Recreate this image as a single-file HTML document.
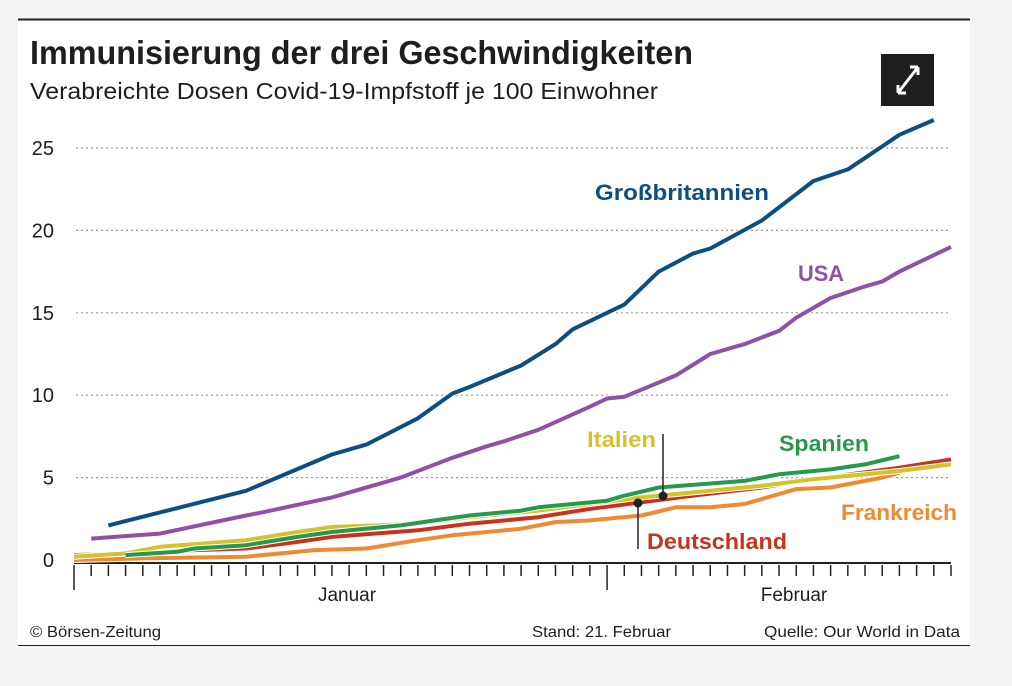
<!DOCTYPE html>
<html><head><meta charset="utf-8"><style>
html,body{margin:0;padding:0;background:#f4f4f4;}
svg{display:block;font-family:"Liberation Sans",sans-serif;}
</style></head><body>
<svg id="chart" width="1012" height="686" viewBox="0 0 1012 686">
<rect x="18" y="19" width="952" height="627" fill="#fff"/>
<line x1="18" y1="19.5" x2="970" y2="19.5" stroke="#222" stroke-width="2"/>
<line x1="18" y1="645.5" x2="970" y2="645.5" stroke="#222" stroke-width="1"/>
<text x="30" y="64" font-size="33" font-weight="bold" fill="#1e1e1e" textLength="663" lengthAdjust="spacingAndGlyphs">Immunisierung der drei Geschwindigkeiten</text>
<text x="30" y="99" font-size="23" fill="#1e1e1e" textLength="628" lengthAdjust="spacingAndGlyphs">Verabreichte Dosen Covid-19-Impfstoff je 100 Einwohner</text>
<g>
<rect x="881" y="54" width="53" height="52" fill="#1e1e1e"/>
<path d="M898 93 L918 67 M898 93 l0 -8 M898 93 l8 0 M918 67 l-8 0 M918 67 l0 8" stroke="#fff" stroke-width="3" fill="none"/>
</g>
<g id="grid"></g><g id="axis"></g><g id="series"></g>
<text x="595" y="200" font-size="22" font-weight="bold" fill="#0b4f82" textLength="174" lengthAdjust="spacingAndGlyphs">Großbritannien</text>
<text x="798" y="281" font-size="22" font-weight="bold" fill="#9050a8" textLength="46" lengthAdjust="spacingAndGlyphs">USA</text>
<text x="587" y="447" font-size="22" font-weight="bold" fill="#d4c22a" textLength="69" lengthAdjust="spacingAndGlyphs">Italien</text>
<text x="779" y="451" font-size="22" font-weight="bold" fill="#27994c" textLength="90" lengthAdjust="spacingAndGlyphs">Spanien</text>
<text x="841" y="520" font-size="22" font-weight="bold" fill="#f08a30" textLength="116" lengthAdjust="spacingAndGlyphs">Frankreich</text>
<text x="647" y="549" font-size="22" font-weight="bold" fill="#c8321e" textLength="140" lengthAdjust="spacingAndGlyphs">Deutschland</text>
<g><line x1="663" y1="434" x2="663" y2="496" stroke="#222" stroke-width="1.5"/><circle cx="663" cy="496" r="4.5" fill="#222"/></g>
<g><line x1="638" y1="503" x2="638" y2="549" stroke="#222" stroke-width="1.5"/><circle cx="638" cy="503" r="4.5" fill="#222"/></g>
<text x="30" y="637" font-size="16" fill="#1e1e1e" textLength="131" lengthAdjust="spacingAndGlyphs">© Börsen-Zeitung</text>
<text x="532" y="637" font-size="16" fill="#1e1e1e" textLength="139" lengthAdjust="spacingAndGlyphs">Stand: 21. Februar</text>
<text x="764" y="637" font-size="16" fill="#1e1e1e" textLength="196" lengthAdjust="spacingAndGlyphs">Quelle: Our World in Data</text>
</svg>
<script>
const yTicks=[0,5,10,15,20,25];
const monthLabels=["Januar","Februar"];
const monthStartDays=[0,31];
const totalDays=51;
const gbDays=[2,10,15,17,20,22,23,26,28,29,32,34,36,37,40,43,45,46,48,50];
const gbVals=[2.1,4.2,6.4,7.0,8.6,10.1,10.5,11.8,13.1,14.0,15.5,17.5,18.6,18.9,20.6,23.0,23.7,24.4,25.8,26.7];
const usDays=[1,5,10,11,15,19,20,22,24,25,27,30,31,32,35,37,39,41,42,44,46,47,48,51];
const usVals=[1.3,1.6,2.7,2.9,3.8,5.0,5.4,6.2,6.9,7.2,7.9,9.3,9.8,9.9,11.2,12.5,13.1,13.9,14.7,15.9,16.6,16.9,17.5,19.0];
const frDays=[0,4,10,14,17,20,22,26,28,30,33,35,37,39,42,44,47,48];
const frVals=[0.0,0.1,0.2,0.6,0.7,1.2,1.5,1.9,2.3,2.4,2.7,3.2,3.2,3.4,4.3,4.4,5.0,5.3];
const deDays=[0,3,7,10,13,15,20,23,27,30,33,36,40,43,48,51];
const deVals=[0.3,0.4,0.6,0.7,1.1,1.4,1.8,2.2,2.6,3.1,3.5,3.9,4.4,4.9,5.6,6.1];
const itDays=[0,3,5,10,13,15,20,23,27,30,33,36,40,43,48,51];
const itVals=[0.2,0.4,0.8,1.2,1.7,2.0,2.2,2.6,3.0,3.4,3.8,4.1,4.5,4.9,5.4,5.8];
const esDays=[3,6,7,10,13,15,19,21,23,26,27,31,32,34,39,41,44,46,48];
const esVals=[0.3,0.5,0.7,0.9,1.4,1.7,2.1,2.4,2.7,3.0,3.2,3.6,3.9,4.4,4.8,5.2,5.5,5.8,6.3];
const NS="http://www.w3.org/2000/svg";
const x0=74,x1=951,yBase=560,yPer=16.48;
const xs=d=>x0+(x1-x0)*d/totalDays;
const ys=v=>yBase-v*yPer;
function mk(tag,attrs,parent){const e=document.createElementNS(NS,tag);for(const k in attrs)e.setAttribute(k,attrs[k]);parent.appendChild(e);return e;}
const grid=document.getElementById('grid'),axis=document.getElementById('axis'),ser=document.getElementById('series');
yTicks.forEach(t=>{
 if(t>0){const l=mk('line',{x1:76,x2:951,y1:ys(t),y2:ys(t),stroke:'#999','stroke-width':1.2,'stroke-dasharray':'2 3'},grid);
 
 }
 const tx=mk('text',{x:54,y:ys(t)+7,'font-size':20,fill:'#1e1e1e','text-anchor':'end'},grid);
 tx.textContent=t;
 
 
});
const ax=mk('line',{x1:x0,x2:x1,y1:563,y2:563,stroke:'#222','stroke-width':2},axis);


for(let d=0;d<=totalDays;d++){
 const long=monthStartDays.includes(d);
 const tk=mk('line',{x1:xs(d),x2:xs(d),y1:565,y2:long?590:576,stroke:'#222','stroke-width':1.5},axis);
 
 
}
monthLabels.forEach((m,i)=>{
 const c=i===0?347:794;
 const tx=mk('text',{x:c,y:601,'font-size':19,fill:'#1e1e1e','text-anchor':'middle'},axis);
 tx.textContent=m;
 
 
});
function line(days,vals,color,name){
 const d=days.map((dd,i)=>(i?'L':'M')+xs(dd).toFixed(1)+' '+ys(vals[i]).toFixed(1)).join(' ');
 mk('path',{d:d,fill:'none',stroke:'#fff','stroke-width':6,'stroke-linejoin':'round'},ser);
 const p=mk('path',{d:d,fill:'none',stroke:color,'stroke-width':4,'stroke-linejoin':'round'},ser);
 
 
}
line(frDays,frVals,'#f08a30','line-frankreich');
line(deDays,deVals,'#c8321e','line-deutschland');
line(itDays,itVals,'#d4c22a','line-italien');
line(esDays,esVals,'#27994c','line-spanien');
line(usDays,usVals,'#9050a8','line-usa');
line(gbDays,gbVals,'#0b4f82','line-grossbritannien');
</script>
</body></html>
